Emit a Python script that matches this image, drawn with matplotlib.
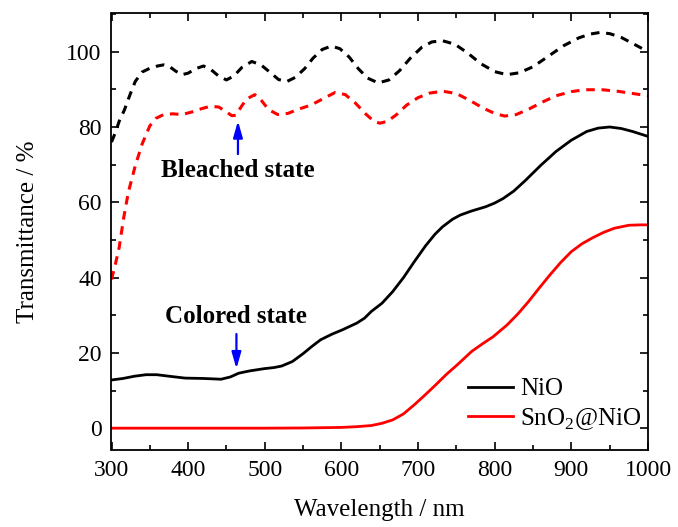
import matplotlib.pyplot as plt
from matplotlib.ticker import MultipleLocator

plt.rcParams['font.family'] = ['Liberation Serif', 'DejaVu Serif']
plt.rcParams['mathtext.fontset'] = 'custom'
plt.rcParams['mathtext.rm'] = 'Liberation Serif'

# bleached state (dashed)
wl_nio_b = [300, 305, 310, 317, 324, 331, 340, 350, 360, 368, 376, 384, 392, 400, 410, 420,
            430, 440, 450, 460, 470, 483, 495, 507, 518, 529, 540, 552, 563, 575, 587, 598,
            610, 622, 634, 648, 662, 676, 690, 705, 718, 732, 748, 765, 782, 800, 816, 832,
            850, 870, 890, 910, 925, 937, 950, 965, 980, 1000]
t_nio_b = [76.0, 78.5, 81.5, 84.6, 88.5, 92.1, 94.6, 95.6, 96.2, 96.5, 96.0, 94.8, 93.9, 94.3, 95.5, 96.2,
           95.2, 93.5, 92.5, 93.6, 95.8, 97.4, 96.5, 94.5, 92.6, 92.1, 93.2, 95.5, 98.3, 100.6, 101.5, 100.8,
           98.6, 95.5, 93.0, 91.7, 92.5, 95.0, 98.3, 101.2, 102.6, 102.9, 102.0, 99.6, 96.8, 94.7, 93.9, 94.4,
           96.0, 98.8, 101.6, 103.7, 104.7, 105.1, 104.8, 103.8, 102.2, 100.0]

wl_sno_b = [300, 305, 310, 316, 322, 331, 340, 350, 358, 368, 380, 392, 405, 418, 429, 440,
            450, 457, 462, 468, 476, 487, 495, 505, 517, 530, 545, 560, 575, 592, 605, 618,
            632, 642, 650, 660, 672, 685, 700, 715, 732, 750, 768, 785, 800, 813, 828, 845,
            862, 880, 900, 918, 940, 960, 980, 1000]
t_sno_b = [39.5, 43.5, 48.0, 56.0, 62.7, 69.7, 75.5, 80.3, 82.3, 83.3, 83.5, 83.3, 84.0, 84.9, 85.5, 85.3,
           84.0, 83.0, 83.1, 85.0, 87.4, 88.6, 87.2, 84.6, 83.3, 83.6, 84.8, 85.8, 87.4, 89.2, 88.6, 86.4,
           83.4, 81.6, 81.0, 81.5, 83.3, 85.8, 87.8, 89.0, 89.5, 88.9, 87.0, 85.0, 83.6, 82.9, 83.3, 84.8,
           86.6, 88.3, 89.4, 89.9, 89.9, 89.5, 88.9, 88.3]

# colored state (solid)
wl_nio_c = [300, 315, 330, 345, 359, 375, 396, 420, 443, 455, 466, 480, 499, 512, 522, 536,
            550, 562, 573, 588, 601, 620, 630, 639, 653, 667, 681, 695, 710, 722, 732, 745,
            755, 770, 788, 800, 811, 825, 840, 860, 880, 900, 920, 935, 950, 965, 980, 1000]
t_nio_c = [12.8, 13.2, 13.8, 14.2, 14.2, 13.8, 13.3, 13.2, 13.0, 13.6, 14.6, 15.2, 15.8, 16.1, 16.5, 17.7,
           19.8, 21.8, 23.5, 25.0, 26.1, 27.9, 29.2, 31.0, 33.2, 36.3, 40.0, 44.2, 48.5, 51.5, 53.5, 55.5,
           56.6, 57.7, 58.8, 59.8, 61.0, 63.0, 65.8, 69.8, 73.5, 76.5, 78.8, 79.7, 80.0, 79.6, 78.8, 77.5]

wl_sno_c = [300, 400, 500, 550, 600, 620, 639, 653, 667, 681, 695, 709, 723, 737, 751, 770,
            784, 798, 816, 830, 844, 858, 872, 886, 900, 914, 928, 942, 956, 975, 990, 1000]
t_sno_c = [0, 0, 0, 0.05, 0.2, 0.4, 0.7, 1.3, 2.2, 3.8, 6.2, 8.8, 11.5, 14.3, 16.8, 20.4,
           22.4, 24.3, 27.4, 30.3, 33.6, 37.2, 40.7, 44.0, 46.9, 49.0, 50.6, 52.0, 53.1, 53.9, 54.0, 54.0]

fig = plt.figure(figsize=(6.78, 5.27), dpi=100)
ax = fig.add_axes([111.5 / 678, 77 / 527, 536.5 / 678, 436.7 / 527])

ax.plot(wl_nio_b, t_nio_b, color='black', lw=2.2, dashes=(2.8, 2.2))
ax.plot(wl_sno_b, t_sno_b, color='#ff0000', lw=2.2, dashes=(2.8, 2.2))
ax.plot(wl_nio_c, t_nio_c, color='black', lw=2, label='NiO')
ax.plot(wl_sno_c, t_sno_c, color='#ff0000', lw=2, label='SnO$_2$@NiO')

# annotations
ax.annotate('', xy=(465, 81.6), xytext=(465, 72.8),
            arrowprops=dict(arrowstyle='-|>,head_length=0.7,head_width=0.2',
                            color='#0000ff', lw=1.6, mutation_scale=14, shrinkA=0, shrinkB=0))
ax.text(465, 68.4, 'Bleached state', ha='center', va='center', fontsize=18, fontweight='bold')
ax.annotate('', xy=(463, 15.8), xytext=(463, 25),
            arrowprops=dict(arrowstyle='-|>,head_length=0.7,head_width=0.2',
                            color='#0000ff', lw=1.6, mutation_scale=14, shrinkA=0, shrinkB=0))
ax.text(463, 29.6, 'Colored state', ha='center', va='center', fontsize=18, fontweight='bold')

ax.set_xlim(300, 1000)
ax.set_ylim(-5.8, 110.2)
ax.xaxis.set_major_locator(MultipleLocator(100))
ax.xaxis.set_minor_locator(MultipleLocator(50))
ax.yaxis.set_major_locator(MultipleLocator(20))
ax.yaxis.set_minor_locator(MultipleLocator(10))
ax.tick_params(which='both', direction='in', top=True, right=True, width=1.2, labelsize=17)
ax.tick_params(which='major', length=6, pad=7)
ax.tick_params(which='minor', length=3.5)
for s in ax.spines.values():
    s.set_linewidth(1.3)

ax.set_xlabel('Wavelength / nm', fontsize=18, labelpad=13)
ax.set_ylabel('Transmittance / %', fontsize=18, labelpad=20)

ax.legend(loc='lower right', bbox_to_anchor=(1.03, -0.01), frameon=False, fontsize=18,
          handlelength=1.8, handletextpad=0.3, labelspacing=0.22)

fig.savefig('out.png', dpi=100)
